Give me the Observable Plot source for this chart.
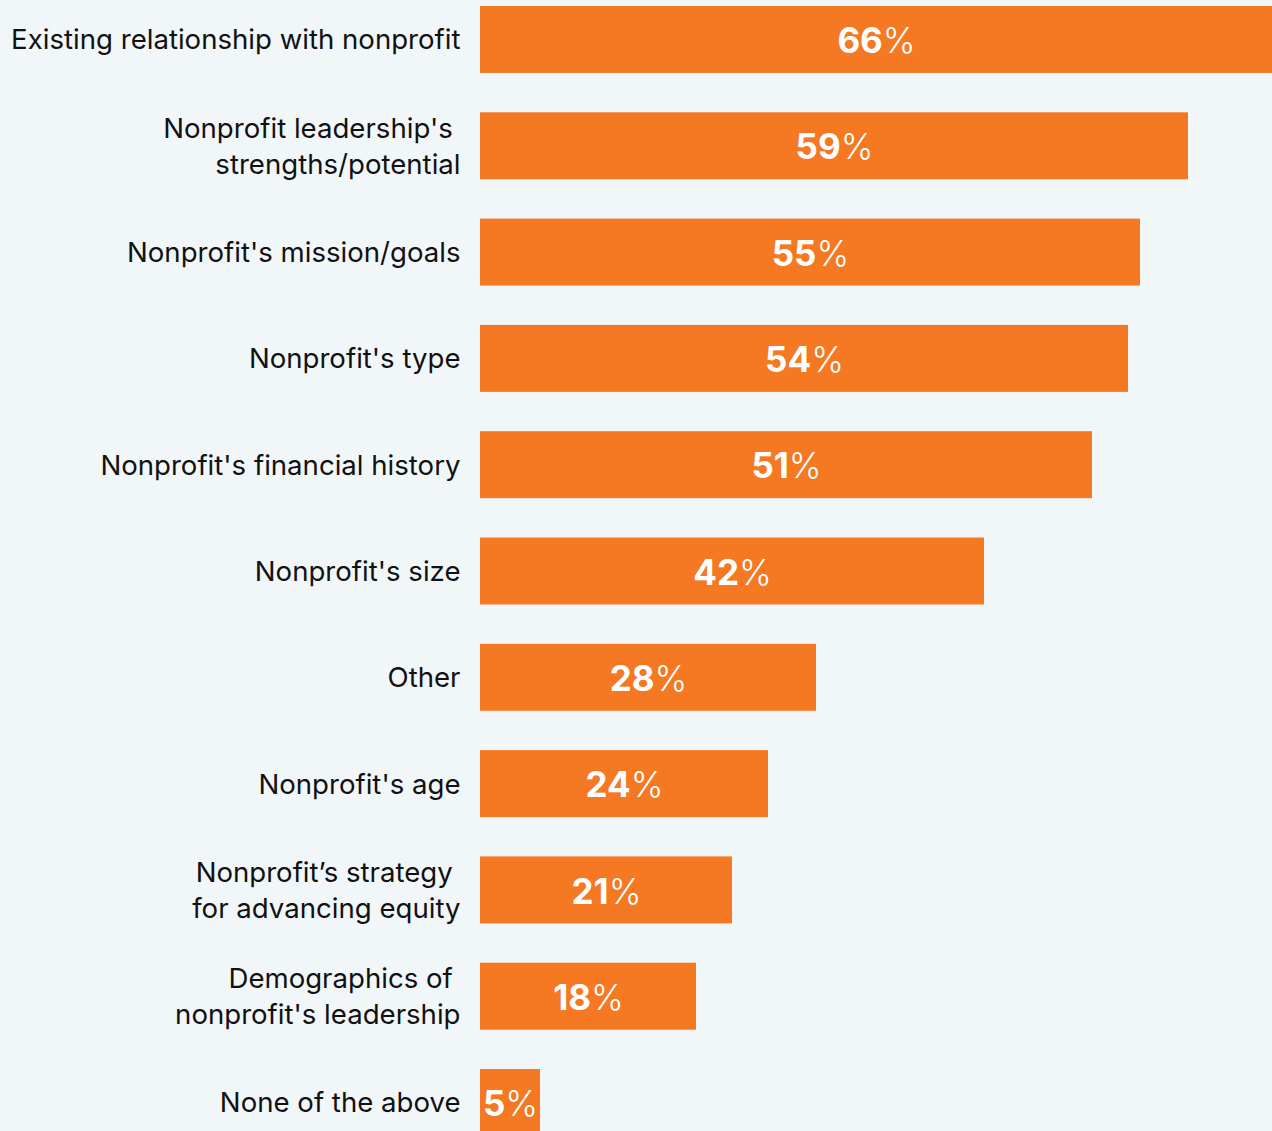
<!DOCTYPE html>
<html>
<head>
<meta charset="utf-8">
<script src="https://cdn.jsdelivr.net/npm/d3@7"></script>
<script src="https://cdn.jsdelivr.net/npm/@observablehq/plot@0.6"></script>
<style>
  html, body { margin: 0; padding: 0; background: #f1f6f9; overflow: hidden; }
</style>
</head>
<body>
<div id="chart"></div>
<script>
const categories = [
  "Existing relationship with nonprofit",
  "Nonprofit leadership's \nstrengths/potential",
  "Nonprofit's mission/goals",
  "Nonprofit's type",
  "Nonprofit's financial history",
  "Nonprofit's size",
  "Other",
  "Nonprofit's age",
  "Nonprofit’s strategy \nfor advancing equity",
  "Demographics of \nnonprofit's leadership",
  "None of the above"
];
const values = [66, 59, 55, 54, 51, 42, 28, 24, 21, 18, 5];

const data = categories.map((c, i) => ({category: c, value: values[i]}));

const fontFamily = "Inter, Roboto, 'Noto Sans', sans-serif";
const orange = "#f57823";

const plot = Plot.plot({
  width: 1272,
  height: 1131,
  margin: 0,
  style: {background: "#f1f6f9", fontFamily, overflow: "visible"},
  x: {domain: [0, 66], range: [480, 1272], axis: null},
  y: {domain: categories, range: [6, 1136], paddingInner: 0.37, paddingOuter: 0, round: false, axis: null},
  marks: [
    Plot.barX(data, {x: "value", y: "category", fill: orange}),
    Plot.text(data, {
      x: 0, y: "category", text: "category",
      textAnchor: "end", dx: -20, dy: -2,
      fontSize: 27.6, lineHeight: 1.3, fill: "#111"
    }),
    Plot.text(data, {
      x: d => d.value / 2, y: "category", text: d => d.value + "%",
      textAnchor: "middle", dy: 2,
      fontSize: 35, fill: "white"
    })
  ]
});

document.getElementById("chart").appendChild(plot);

d3.select(plot).selectAll("text").each(function() {
  const t = this.textContent;
  if (!/^\d+%$/.test(t)) return;
  const num = t.replace("%", "");
  const sel = d3.select(this);
  sel.text(null);
  sel.append("tspan").attr("font-weight", 700).text(num);
  sel.append("tspan").attr("font-weight", 300).text("%");
});
</script>
</body>
</html>
